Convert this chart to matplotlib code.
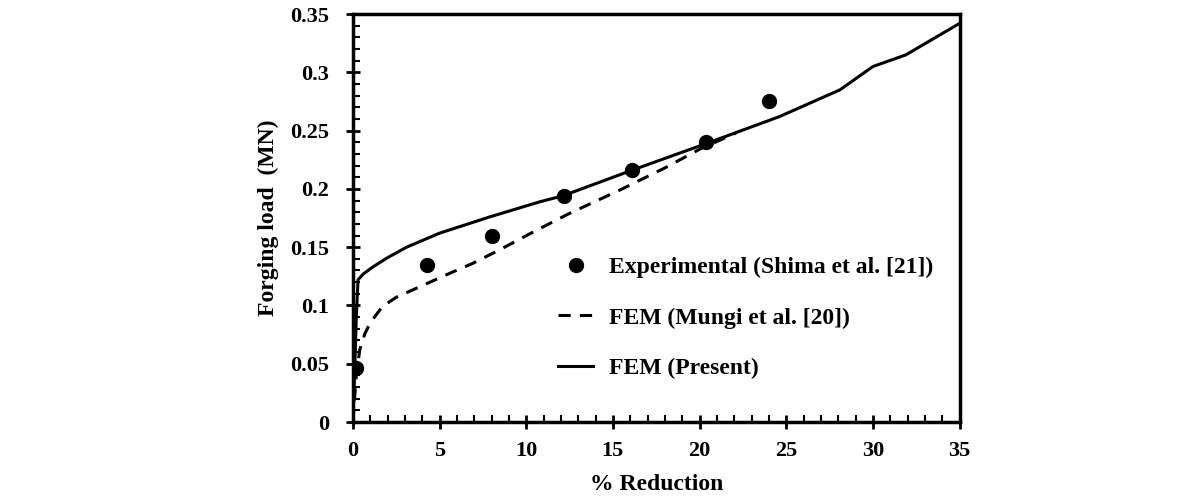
import matplotlib
matplotlib.use("Agg")
import matplotlib.pyplot as plt
from matplotlib.ticker import MultipleLocator, FixedLocator, FixedFormatter

# ---- data ----
exp_x = [0.2, 4.3, 8.0, 12.2, 16.1, 20.4, 24.0]
exp_y = [0.046, 0.135, 0.160, 0.194, 0.216, 0.240, 0.275]

mungi_x = [0.0, 0.1, 0.2, 0.4, 0.7, 1.0, 1.7, 2.5, 4.0, 5.5, 6.9, 8.5, 10.4, 12.5, 15.4, 18.0, 20.0, 22.1]
mungi_y = [0.0, 0.02, 0.04, 0.062, 0.076, 0.085, 0.099, 0.107, 0.117, 0.127, 0.136, 0.148, 0.163, 0.179, 0.199, 0.218, 0.234, 0.248]

present_x = [0.0, 0.1, 0.2, 0.3, 0.6, 1.15, 2.0, 3.1, 5.0, 7.9, 10.8, 12.1, 16.1, 20.4, 24.6, 28.1, 30.0, 31.9, 35.0]
present_y = [0.0, 0.04, 0.09, 0.122, 0.127, 0.133, 0.141, 0.150, 0.162, 0.176, 0.189, 0.194, 0.216, 0.239, 0.262, 0.285, 0.305, 0.315, 0.342]

labels = ["Experimental (Shima et al. [21])", "FEM (Mungi et al. [20])", "FEM (Present)"]
x_ticks = [0, 5, 10, 15, 20, 25, 30, 35]
y_ticks = [0, 0.05, 0.1, 0.15, 0.2, 0.25, 0.3, 0.35]
y_tick_labels = ["0", "0.05", "0.1", "0.15", "0.2", "0.25", "0.3", "0.35"]

plt.rcParams['font.family'] = ['Liberation Serif', 'DejaVu Serif']
plt.rcParams['font.weight'] = 'bold'

fig = plt.figure(figsize=(11.92, 5.03), dpi=100)
ax = fig.add_axes([0.296, 0.161, 0.509, 0.811])

ax.plot(exp_x, exp_y, 'o', color='black', markersize=10, label=labels[0], zorder=3)
ax.plot(mungi_x, mungi_y, color='black', linewidth=2.2, dashes=(4, 3), label=labels[1])
ax.plot(present_x, present_y, color='black', linewidth=2.2, label=labels[2])

ax.set_xlim(0, 35)
ax.set_ylim(0, 0.35)
ax.xaxis.set_major_locator(FixedLocator(x_ticks))
ax.yaxis.set_major_locator(FixedLocator(y_ticks))
ax.yaxis.set_major_formatter(FixedFormatter(y_tick_labels))
ax.xaxis.set_minor_locator(MultipleLocator(1))
ax.yaxis.set_minor_locator(MultipleLocator(0.01))

ax.tick_params(which='major', direction='inout', length=10, width=2, labelsize=16)
ax.tick_params(axis='y', which='major', pad=12)
ax.tick_params(axis='x', which='major', pad=9)
ax.tick_params(which='minor', direction='in', length=5, width=1.5)
for lab in ax.get_xticklabels() + ax.get_yticklabels():
    lab.set_fontweight('bold')

for s in ax.spines.values():
    s.set_linewidth(2.5)

ax.set_xlabel("% Reduction", fontsize=17, fontweight='bold', labelpad=9)
ax.set_ylabel("Forging load  (MN)", fontsize=17, fontweight='bold', labelpad=8)

leg = ax.legend(loc='center left', bbox_to_anchor=(0.338, 0.255), frameon=False,
                fontsize=17, handlelength=1.5, handletextpad=0.65, labelspacing=1.22,
                borderpad=0, borderaxespad=0)

fig.savefig("out.png", dpi=100, facecolor='white')
